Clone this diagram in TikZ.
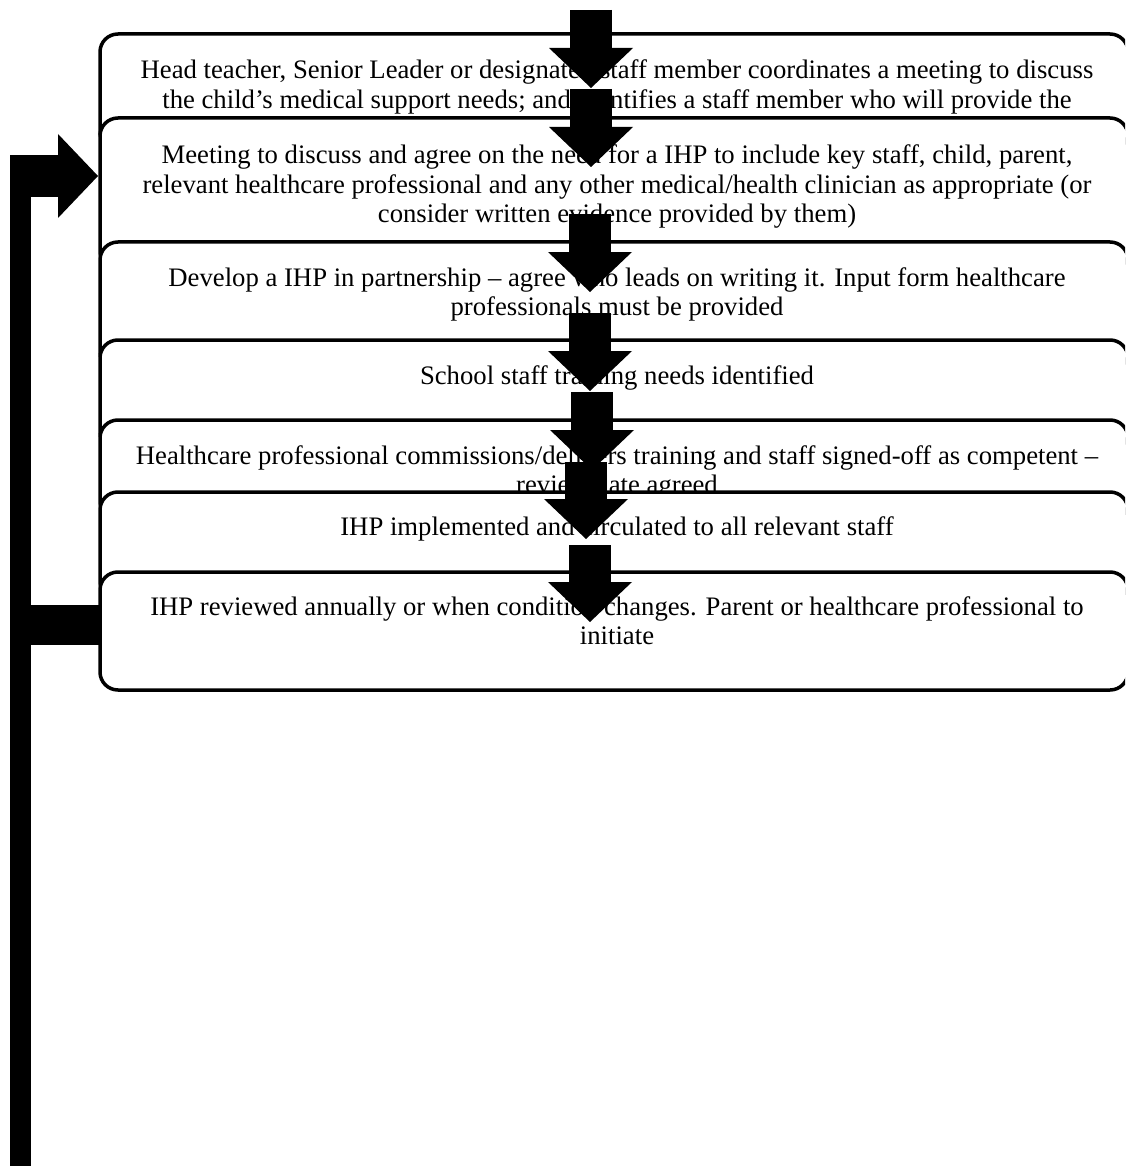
\documentclass[tikz,border=0pt]{standalone}
\usepackage{fontspec}
\setmainfont{Liberation Serif}
\usepackage{tikz}
\tikzstyle{stepbox} = [draw, line width=3.5pt, rounded corners=18pt, fill=white,
    anchor=north west, outer sep=0pt, minimum width=1028pt]
\tikzstyle{steptext} = [anchor=north, inner sep=0pt, align=center, xshift=3pt,
    font=\fontsize{26.7}{29.5}\selectfont]
\usetikzlibrary{arrows.meta}
\tikzset{>={Triangle[length=40pt,width=84pt,line width=0pt]}}
\tikzset{flow/.style={->, line width=42pt}}
\tikzset{backbar/.style={line width=21pt}}

\begin{document}
\begin{tikzpicture}[x=1pt,y=-1pt]
    \path[use as bounding box, clip] (0,0) rectangle (1125,1166);
    %boxes
    \node[stepbox, minimum height=116pt] (b1) at (100,34) {};
    \node[steptext] (t1) at ([yshift=-26pt]b1.north) {Head teacher, Senior Leader or designated staff member coordinates a meeting to discuss\\ the child's medical support needs; and identifies a staff member who will provide the};
    \node[stepbox, minimum height=152pt] (b2) at (100,118) {};
    \node[steptext] (t2) at ([yshift=-27pt]b2.north) {Meeting to discuss and agree on the need for a IHP to include key staff, child, parent,\\ relevant healthcare professional and any other medical/health clinician as appropriate (or\\ consider written evidence provided by them)};
    \node[stepbox, minimum height=128pt] (b3) at (100,242) {};
    \node[steptext] (t3) at ([yshift=-25pt]b3.north) {Develop a IHP in partnership -- agree who leads on writing it. Input form healthcare\\ professionals must be provided};
    \node[stepbox, minimum height=110pt] (b4) at (100,340) {};
    \node[steptext] (t4) at ([yshift=-25pt]b4.north) {School staff training needs identified};
    \node[stepbox, minimum height=100pt] (b5) at (100,420) {};
    \node[steptext] (t5) at ([yshift=-25pt]b5.north) {Healthcare professional commissions/delivers training and staff signed-off as competent --\\ review date agreed};
    \node[stepbox, minimum height=108pt] (b6) at (100,492) {};
    \node[steptext] (t6) at ([yshift=-24pt]b6.north) {IHP implemented and circulated to all relevant staff};
    \node[stepbox, minimum height=118pt] (b7) at (100,572) {};
    \node[steptext] (t7) at ([yshift=-24pt]b7.north) {IHP reviewed annually or when condition changes. Parent or healthcare professional to\\ initiate};
    %arrows
    \draw[flow] ([shift={(-23,-24)}]b1.north) -- ([shift={(-23,54)}]b1.north);
    \draw[flow] ([shift={(-23,-29)}]b2.north) -- ([shift={(-23,49)}]b2.north);
    \draw[flow] ([shift={(-24,-28)}]b3.north) -- ([shift={(-24,50)}]b3.north);
    \draw[flow] ([shift={(-24,-27)}]b4.north) -- ([shift={(-24,51)}]b4.north);
    \draw[flow] ([shift={(-22,-28)}]b5.north) -- ([shift={(-22,50)}]b5.north);
    \draw[flow] ([shift={(-28,-30)}]b6.north) -- ([shift={(-28,47)}]b6.north);
    \draw[flow] ([shift={(-24,-27)}]b7.north) -- ([shift={(-24,50)}]b7.north);
    %back loop
    \coordinate (out7) at ([yshift=-53pt]b7.north west);
    \coordinate (in2) at ([shift={(-2,58)}]b2.north west);
    \coordinate (bartop) at (20.5,155);
    \coordinate (barbot) at (20.5,1170);
    \draw[backbar] (barbot) -- (bartop);
    \draw[line width=40pt] (out7) -- (10,625);
    \draw[flow] (10,176) -- (in2);
\end{tikzpicture}
\end{document}
